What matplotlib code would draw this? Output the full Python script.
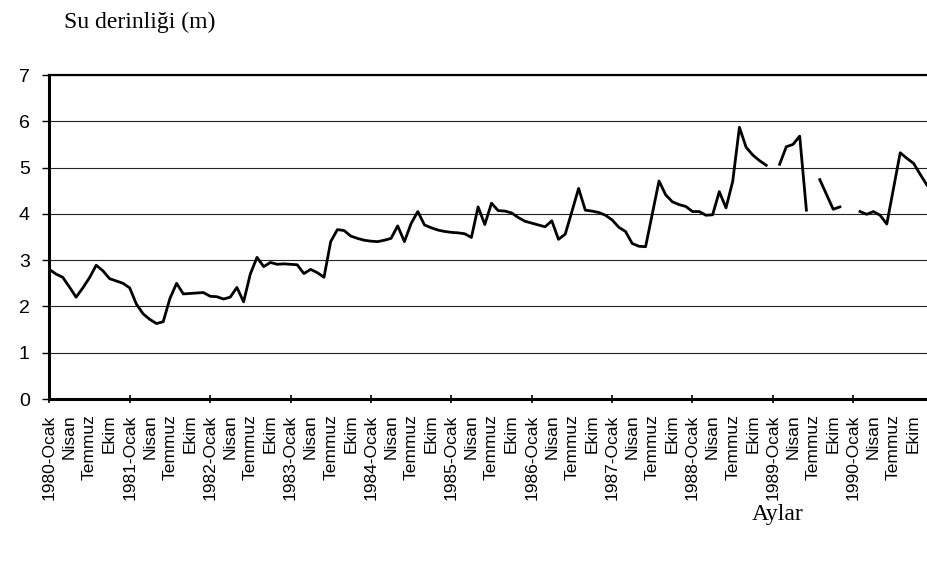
import numpy as np
import matplotlib.pyplot as plt

plt.rcParams['font.family'] = 'Liberation Sans'

# Monthly water depth (m), Ocak 1980 - Aralik 1990, nan = missing month
depth = [
    2.80, 2.70, 2.63, 2.42, 2.20, 2.40, 2.62, 2.89, 2.77, 2.60, 2.55, 2.50,  # 1980
    2.40, 2.05, 1.84, 1.72, 1.63, 1.67, 2.17, 2.50, 2.27, 2.28, 2.29, 2.30,  # 1981
    2.22, 2.21, 2.16, 2.20, 2.41, 2.10, 2.70, 3.06, 2.86, 2.95, 2.91, 2.92,  # 1982
    2.91, 2.90, 2.71, 2.80, 2.73, 2.63, 3.40, 3.66, 3.64, 3.52, 3.47, 3.43,  # 1983
    3.41, 3.40, 3.43, 3.47, 3.74, 3.40, 3.79, 4.05, 3.76, 3.70, 3.65, 3.62,  # 1984
    3.60, 3.59, 3.57, 3.49, 4.15, 3.77, 4.23, 4.07, 4.06, 4.02, 3.92, 3.84,  # 1985
    3.80, 3.76, 3.72, 3.85, 3.45, 3.56, 4.05, 4.55, 4.08, 4.06, 4.03, 3.97,  # 1986
    3.87, 3.71, 3.62, 3.36, 3.30, 3.29, 4.00, 4.71, 4.41, 4.26, 4.20, 4.16,  # 1987
    4.05, 4.05, 3.97, 3.98, 4.48, 4.13, 4.70, 5.87, 5.44, 5.27, 5.15, 5.05,  # 1988
    np.nan, 5.07, 5.45, 5.50, 5.68, 4.08, np.nan, 4.74, 4.42, 4.10, 4.15, np.nan,  # 1989
    np.nan, 4.05, 3.99, 4.05, 3.97, 3.78, 4.55, 5.32, 5.20, 5.09, 4.85, 4.62,  # 1990
]
years = list(range(1980, 1991))
season_months = ['Ocak', 'Nisan', 'Temmuz', 'Ekim']

labels = []
for y in years:
    for m in season_months:
        labels.append(f'{y}-{m}' if m == 'Ocak' else m)

x = np.arange(len(depth))

fig = plt.figure(figsize=(9.28, 5.61), dpi=100)
ax = fig.add_axes([49.3 / 928, 162 / 561, 877.7 / 928, 324 / 561])

ax.plot(x, depth, color='black', lw=2.0)

ax.set_xlim(0, len(depth) - 1)
ax.set_ylim(0, 7)

# y axis
ax.set_yticks(range(0, 8))
ax.tick_params(axis='y', labelsize=14, length=5, width=1, pad=9, colors='black')
ax.yaxis.grid(True, color='#222222', lw=0.8)

# x axis: labels every 3 months, tick marks every year
ax.xaxis.remove_overlapping_locs = False
ax.set_xticks(np.arange(0, len(depth), 3))
ax.set_xticklabels(labels, rotation=90, fontsize=12.5)
ax.tick_params(axis='x', which='major', length=0, pad=11)
ax.set_xticks(np.arange(0, len(depth), 12), minor=True)
ax.tick_params(axis='x', which='minor', direction='inout', length=6, width=1.2)

for side in ['left', 'bottom']:
    ax.spines[side].set_linewidth(2.2)
ax.spines['top'].set_linewidth(1.6)
ax.spines['right'].set_visible(False)

fig.text(64 / 928, 1 - 28 / 561, 'Su derinliği (m)', family='Liberation Serif',
         fontsize=17, va='baseline')
fig.text(752 / 928, 1 - 520 / 561, 'Aylar', family='Liberation Serif',
         fontsize=17, va='baseline')

fig.savefig('out.png', dpi=100)
